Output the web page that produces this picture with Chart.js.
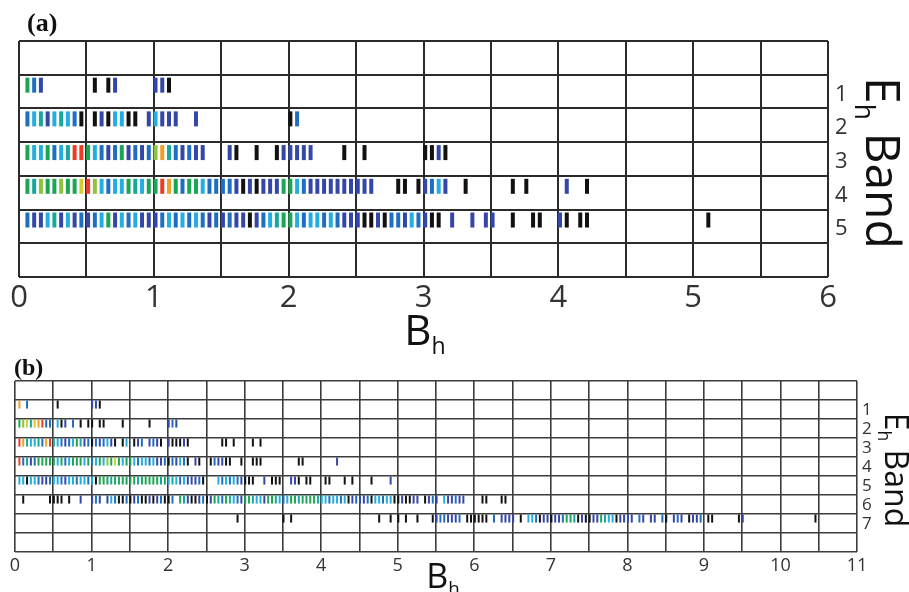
<!DOCTYPE html>
<html lang="en">
<head>
<meta charset="UTF-8">
<title>Eh band vs Bh</title>
<script src="https://cdn.jsdelivr.net/npm/chart.js"></script>
<style>
    body { margin: 0; background: #fff; }
    canvas { position: absolute; left: 0; }
    #chartA { top: 0; }
    #chartB { top: 350px; }
</style>
</head>
<body>
<canvas id="chartA" width="909" height="362"></canvas>
<canvas id="chartB" width="909" height="242"></canvas>
<script>
// Each string is one 0.5-wide grid cell split in 10 slots of 0.05 (B_h).
// Letter = colour of the mark in that slot, '.' = no mark.
const STEP = 0.05;

// panel (a), E_h bands 1..5
const aBand1 = [".gbn......", ".k.kn.....", "nnk......."];
const aBand2 = [".bctnctcbk", ".knkcckk.n", "cnnn..n...", "..........", "kb........"];
const aBand3 = [".gccgbctrr", "gcbnbgnbnb", "lotbnbnn..", ".nk..k..kn", "nnnn....k.", ".k........", "kknk......"];
const aBand4 = [".gtlgglggy", "rlcbccgtcg", "grogbggcbb", "bbnknknnng", "gcbnnnnnnn", "nnn...kk.k", "nbcn..k...", "...k.k....", ".n..k....."];
const aBand5 = [".bnnctncnb", "nbcgncbcnn", "nbcbcbcbnb", "nbnnknbctg", "gcbccbcbnn", "nkknkbbncb", "nkk.n..n.n", "n..k..kk..", "nk.kk.....", "..........", "..k......."];

// panel (b), E_h bands 1..7
const bBand1 = [".o.b......", ".k........", "nnk......."];
const bBand2 = [".glytyorbb", ".ckn.b.k.k", "k.kk....k.", ".....k....", "nbn......."];
const bBand3 = [".rotcctbor", "tcbnbcgtnb", "kbnbcnk.kc", ".knb.nbnk.", "nkkknk....", "....kk.k..", "..k.k....."];
const bBand4 = [".rbtnbgggg", "gcgbcgggcg", "bcgclgygcg", "gcbccbcnnb", "kbncbk.nk.", ".kbnnkk..k", "..kkk.....", "....kk....", "....n....."];
const bBand5 = [".cckccbnnb", "ccbnccbccb", "ckgggtgggg", "ggtgggggtg", "ctcbcnnnbk", "...cbcbcbn", "kkk..n.kkk", "..nnk.kk..", ".kk...k.k.", "...k....n."];
const bBand6 = ["..k......k", "kkk.k..n..", "nbn.ncbkkb", "knbkknknbk", "kb.gtnkknb", "kngtbgtcbn", "ggtccnggtc", "bcggtggggt", "ccbccbcknb", "nnbkccbcck", "knkknn.knb", "n.cnnbnn..", "..kk...kk."];
const bBand7 = ["..........", "..........", "..........", "..........", "..........", "........k.", "..........", "k.k.......", "..........", ".....k..k.",
                "k.k..k...k", "nbbnnnb.kk", "kkkk.b.nnn", "n.k.ccbknn", "knnbggtknk", "knngtccknn", "nn.bn.nn.b", "k.nbn.knnb", ".kk......k", "n.........", ".........k"];

const aTickLabels = [0, 1, 2, 3, 4, 5, 6];
const bTickLabels = [0, 1, 2, 3, 4, 5, 6, 7, 8, 9, 10, 11];
const aBandLabels = [1, 2, 3, 4, 5];
const bBandLabels = [1, 2, 3, 4, 5, 6, 7];

const markColors = {
    n: '#3447a8', b: '#1e6fc4', c: '#22aee0', t: '#16a89c', g: '#1ca553',
    l: '#8fc23e', y: '#d3cf2f', o: '#f0a124', r: '#ef3b23', k: '#111111'
};

function bandPoints(band, segs, shift) {
    const pts = [];
    segs.forEach((seg, s) => {
        [...seg].forEach((ch, j) => {
            if (ch !== '.') pts.push({ x: (s * 10 + j + shift) * STEP, y: band, c: ch });
        });
    });
    return pts;
}

function drawSubText(ctx, parts, size, x, y) {
    // parts: [text, isSub]
    const widths = parts.map(([t, sub]) => {
        ctx.font = (sub ? size * 0.55 : size) + 'px "Open Sans"';
        return ctx.measureText(t).width;
    });
    let cx = x - widths.reduce((a, b) => a + b, 0) / 2;
    parts.forEach(([t, sub], i) => {
        ctx.font = (sub ? size * 0.55 : size) + 'px "Open Sans"';
        ctx.fillText(t, cx, sub ? y + size * 0.22 : y);
        cx += widths[i];
    });
}

const panelText = {
    id: 'panelText',
    afterDraw(chart, args, o) {
        const ctx = chart.ctx;
        ctx.save();
        ctx.fillStyle = '#111';
        ctx.textBaseline = 'alphabetic';
        ctx.textAlign = 'left';
        ctx.font = 'bold ' + o.letterSize + 'px "Liberation Serif"';
        ctx.fillText(o.letter, o.letterX, o.letterY);
        drawSubText(ctx, [['B', false], ['h', true]], o.xTitleSize, o.xTitleX, o.xTitleY);
        ctx.translate(o.yTitleX, o.yTitleY);
        ctx.rotate(Math.PI / 2);
        drawSubText(ctx, [['E', false], ['h', true], [' Band', false]], o.yTitleSize, 0, 0);
        ctx.restore();
    }
};

function makeChart(id, o) {
    const datasets = o.bands.map((segs, i) => ({
        data: bandPoints(i + 1, segs, o.shift),
        showLine: false,
        pointStyle: 'line',
        pointRotation: 90,
        pointRadius: o.markHalf,
        pointBorderWidth: o.markWidth,
        pointBorderColor: ctx => markColors[ctx.raw ? ctx.raw.c : 'k']
    }));
    const rowLines = [];
    for (let i = 0; i <= o.rows; i++) rowLines.push({ value: o.yMin + i });

    return new Chart(document.getElementById(id), {
        type: 'scatter',
        data: { datasets },
        options: {
            responsive: false,
            animation: false,
            events: [],
            devicePixelRatio: 1,
            layout: { padding: { left: o.left, top: o.top, right: 0, bottom: 0 } },
            plugins: {
                legend: { display: false },
                tooltip: { enabled: false },
                panelText: o.text
            },
            scales: {
                x: {
                    type: 'linear', min: 0, max: o.xMax,
                    ticks: {
                        stepSize: 0.5, autoSkip: false, maxRotation: 0,
                        padding: o.xPad, color: '#333',
                        font: { family: 'Open Sans', size: o.xFont },
                        callback: v => o.xLabels.includes(v) ? String(v) : ''
                    },
                    grid: { color: o.gridColor, lineWidth: o.gridWidth, drawTicks: false },
                    border: { display: false },
                    afterFit: s => { s.height = o.xAxisH; }
                },
                y: {
                    type: 'linear', reverse: true, min: o.yMin, max: o.yMin + o.rows,
                    afterBuildTicks: ax => { ax.ticks = rowLines.slice(); },
                    ticks: { display: false },
                    grid: { color: o.gridColor, lineWidth: o.gridWidth, drawTicks: false },
                    border: { display: false },
                    afterFit: s => { s.width = 0; }
                },
                y2: {
                    type: 'linear', position: 'right', reverse: true,
                    min: o.yMin - o.labelShift, max: o.yMin - o.labelShift + o.rows,
                    afterBuildTicks: ax => { ax.ticks = o.bandLabels.map(v => ({ value: v })); },
                    ticks: {
                        padding: o.yPad, color: '#333',
                        font: { family: 'Open Sans', size: o.yFont },
                        callback: v => String(v)
                    },
                    grid: { display: false, drawTicks: false },
                    border: { display: false },
                    afterFit: s => { s.width = o.rightW; }
                }
            }
        },
        plugins: [panelText]
    });
}

makeChart('chartA', {
    bands: [aBand1, aBand2, aBand3, aBand4, aBand5],
    shift: 0.25, markHalf: 7.5, markWidth: 4,
    rows: 7, yMin: -0.31, labelShift: 0.27,
    xMax: 6, xLabels: aTickLabels, bandLabels: aBandLabels,
    left: 19, top: 41, xAxisH: 85, rightW: 81,
    xFont: 31, xPad: 3, yFont: 22, yPad: 7,
    gridColor: '#2b2b2b', gridWidth: 2,
    text: {
        letter: '(a)', letterSize: 26, letterX: 27, letterY: 31,
        xTitleSize: 42, xTitleX: 425, xTitleY: 345,
        yTitleSize: 48, yTitleX: 866, yTitleY: 163
    }
});

makeChart('chartB', {
    bands: [bBand1, bBand2, bBand3, bBand4, bBand5, bBand6, bBand7],
    shift: 0.15, markHalf: 4, markWidth: 2,
    rows: 9, yMin: -0.24, labelShift: 0.31,
    xMax: 11, xLabels: bTickLabels, bandLabels: bBandLabels,
    left: 15, top: 31, xAxisH: 40, rightW: 52,
    xFont: 18, xPad: 3, yFont: 17, yPad: 5,
    gridColor: '#3c3c3c', gridWidth: 1.6,
    text: {
        letter: '(b)', letterSize: 24, letterX: 14, letterY: 25,
        xTitleSize: 34, xTitleX: 443, xTitleY: 238,
        yTitleSize: 32, yTitleX: 885, yTitleY: 120
    }
});
</script>
</body>
</html>
